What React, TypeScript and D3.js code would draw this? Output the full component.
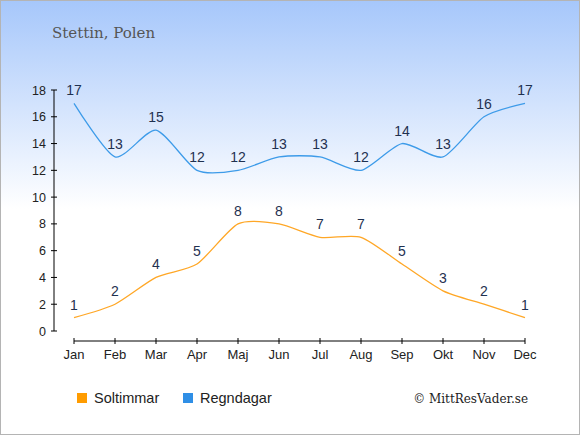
import { useEffect, useRef } from "react";
import * as d3 from "d3";

const months = ["Jan", "Feb", "Mar", "Apr", "Maj", "Jun", "Jul", "Aug", "Sep", "Okt", "Nov", "Dec"];
const sunHours = [1, 2, 4, 5, 8, 8, 7, 7, 5, 3, 2, 1];
const rainDays = [17, 13, 15, 12, 12, 13, 13, 12, 14, 13, 16, 17];
const yTicks = [0, 2, 4, 6, 8, 10, 12, 14, 16, 18];

const W = 580;
const H = 435;
const SUN = "#ffa726";
const RAIN = "#3d9be9";

const App = () => {
  const svgRef = useRef<SVGSVGElement | null>(null);

  useEffect(() => {
    if (!svgRef.current) return;
    const svg = d3.select(svgRef.current);
    svg.selectAll("*").remove();

    const defs = svg.append("defs");
    const grad = defs
      .append("linearGradient")
      .attr("id", "bg")
      .attr("x1", 0)
      .attr("y1", 0)
      .attr("x2", 0)
      .attr("y2", 1);
    grad.append("stop").attr("offset", "0%").attr("stop-color", "#a6c7fb");
    grad.append("stop").attr("offset", "48%").attr("stop-color", "#ffffff");
    grad.append("stop").attr("offset", "100%").attr("stop-color", "#ffffff");

    svg
      .append("rect")
      .attr("x", 0.5)
      .attr("y", 0.5)
      .attr("width", W - 1)
      .attr("height", H - 1)
      .attr("fill", "url(#bg)")
      .attr("stroke", "#b4b4b4");

    svg
      .append("text")
      .attr("x", 52)
      .attr("y", 38)
      .attr("font-family", "Georgia, 'DejaVu Serif', serif")
      .attr("font-size", 15)
      .attr("fill", "#555")
      .text("Stettin, Polen");

    const x = d3
      .scalePoint<string>()
      .domain(months)
      .range([74, 525]);
    const y = d3.scaleLinear().domain([0, 18]).range([331, 90]);

    const font = "'Liberation Sans', Arial, sans-serif";

    // y axis
    svg
      .append("line")
      .attr("x1", 54)
      .attr("x2", 54)
      .attr("y1", y(18))
      .attr("y2", y(0))
      .attr("stroke", "#000");
    yTicks.forEach((t) => {
      svg
        .append("line")
        .attr("x1", 51)
        .attr("x2", 57)
        .attr("y1", y(t))
        .attr("y2", y(t))
        .attr("stroke", "#000");
      svg
        .append("text")
        .attr("x", 46)
        .attr("y", y(t) + 4.5)
        .attr("text-anchor", "end")
        .attr("font-family", font)
        .attr("font-size", 12.5)
        .attr("fill", "#222")
        .text(t);
    });

    // x axis
    svg
      .append("line")
      .attr("x1", x(months[0])!)
      .attr("x2", x(months[11])!)
      .attr("y1", 341)
      .attr("y2", 341)
      .attr("stroke", "#000");
    months.forEach((m) => {
      svg
        .append("line")
        .attr("x1", x(m)!)
        .attr("x2", x(m)!)
        .attr("y1", 338)
        .attr("y2", 344)
        .attr("stroke", "#000");
      svg
        .append("text")
        .attr("x", x(m)!)
        .attr("y", 359)
        .attr("text-anchor", "middle")
        .attr("font-family", font)
        .attr("font-size", 13)
        .attr("fill", "#222")
        .text(m);
    });

    const drawSeries = (vals: number[], color: string) => {
      const line = d3
        .line<number>()
        .x((_, i) => x(months[i])!)
        .y((d) => y(d))
        .curve(d3.curveCardinal.tension(0.3));
      svg
        .append("path")
        .datum(vals)
        .attr("fill", "none")
        .attr("stroke", color)
        .attr("stroke-width", 1.3)
        .attr("d", line);
      vals.forEach((v, i) => {
        svg
          .append("text")
          .attr("x", x(months[i])!)
          .attr("y", y(v) - 8)
          .attr("text-anchor", "middle")
          .attr("font-family", font)
          .attr("font-size", 14)
          .attr("fill", "#1f3150")
          .text(v);
      });
    };

    drawSeries(rainDays, RAIN);
    drawSeries(sunHours, SUN);

    // legend
    const legend = [
      { label: "Soltimmar", color: "#ff9c00", x: 77 },
      { label: "Regndagar", color: "#2f8fe6", x: 183 },
    ];
    legend.forEach((l) => {
      svg
        .append("rect")
        .attr("x", l.x)
        .attr("y", 393)
        .attr("width", 10)
        .attr("height", 10)
        .attr("fill", l.color);
      svg
        .append("text")
        .attr("x", l.x + 17)
        .attr("y", 403)
        .attr("font-family", font)
        .attr("font-size", 14.5)
        .attr("fill", "#222")
        .text(l.label);
    });

    svg
      .append("text")
      .attr("x", 528)
      .attr("y", 403)
      .attr("text-anchor", "end")
      .attr("font-family", "Georgia, 'DejaVu Serif', serif")
      .attr("font-size", 12)
      .attr("fill", "#222")
      .text("© MittResVader.se");
  }, []);

  return (
    <svg
      ref={svgRef}
      width={W}
      height={H}
      viewBox={`0 0 ${W} ${H}`}
      style={{ display: "block", position: "absolute", left: 0, top: 0 }}
    />
  );
};

export default App;
